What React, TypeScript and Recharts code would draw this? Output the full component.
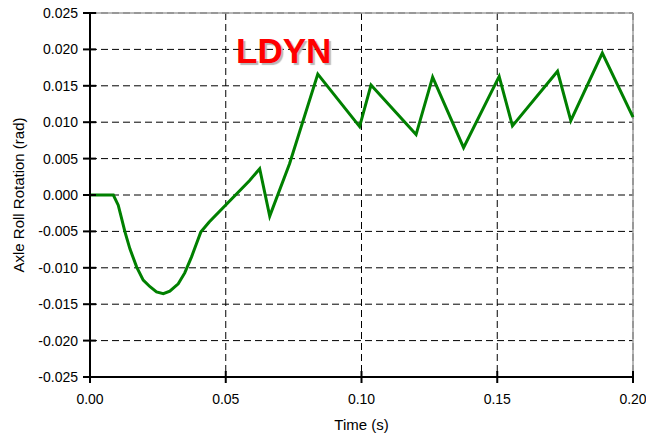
import React from 'react';
import { LineChart, Line, XAxis, YAxis, CartesianGrid, ReferenceLine } from 'recharts';

const timeS = [
  0, 0.0086, 0.0104, 0.0117, 0.0129, 0.0147, 0.0172, 0.0196, 0.0221, 0.0245, 0.027, 0.0294, 0.0325,
  0.0349, 0.0374, 0.0392, 0.0408, 0.0439, 0.0588, 0.0625, 0.0662, 0.0735, 0.0839, 0.0993, 0.1035,
  0.1201, 0.1262, 0.1376, 0.1507, 0.1556, 0.1722, 0.1771, 0.1887, 0.2,
];
const rollRad = [
  0, 0, -0.0014, -0.0033, -0.0051, -0.0074, -0.0099, -0.0117, -0.0126, -0.0133, -0.01355, -0.0132,
  -0.0122, -0.0107, -0.0085, -0.0067, -0.0051, -0.0037, 0.002, 0.0036, -0.0029, 0.0043, 0.0166,
  0.0094, 0.0151, 0.0083, 0.0162, 0.0065, 0.0163, 0.0095, 0.017, 0.0102, 0.0195, 0.0107,
];
const xTicks = [0, 0.05, 0.1, 0.15, 0.2];
const yTicks = [-0.025, -0.02, -0.015, -0.01, -0.005, 0, 0.005, 0.01, 0.015, 0.02, 0.025];

const data = timeS.map((t, i) => ({ t, v: rollRad[i] }));

const FONT = '"Liberation Sans", Arial, sans-serif';

function YTick({ x, y, payload }: any) {
  return (
    <g>
      <line x1={x - 7} x2={x + 6} y1={y} y2={y} stroke="#000" strokeWidth={2} />
      <text x={x - 12} y={y} dy={5} textAnchor="end" fontSize={14} fontFamily={FONT} fill="#000">
        {Number(payload.value).toFixed(3)}
      </text>
    </g>
  );
}

function XTick({ x, y, payload }: any) {
  return (
    <g>
      <line x1={x} x2={x} y1={y - 6} y2={y + 6} stroke="#000" strokeWidth={2} />
      <text x={x} y={y + 27} textAnchor="middle" fontSize={14} fontFamily={FONT} fill="#000">
        {Number(payload.value).toFixed(2)}
      </text>
    </g>
  );
}

export default function App() {
  return (
    <div style={{ position: 'absolute', left: 0, top: 0, width: 646, height: 435, background: '#fff' }}>
      <LineChart width={646} height={435} data={data} margin={{ top: 13, right: 13, left: 0, bottom: 0 }}>
        <CartesianGrid stroke="#000" strokeDasharray="7 4" strokeWidth={1} />
        <ReferenceLine y={0.025} stroke="#a0a0a0" strokeWidth={1.5} />
        <ReferenceLine x={0.2} stroke="#a0a0a0" strokeWidth={1.5} />
        <XAxis
          dataKey="t"
          type="number"
          domain={[0, 0.2]}
          ticks={xTicks}
          height={58}
          tickSize={0}
          tickMargin={0}
          tick={<XTick />}
          axisLine={{ stroke: '#000', strokeWidth: 2 }}
          tickLine={false}
          interval={0}
          label={{ value: 'Time (s)', position: 'center', dy: 19, fontSize: 15, fontFamily: FONT, fill: '#000' }}
        />
        <YAxis
          type="number"
          domain={[-0.025, 0.025]}
          ticks={yTicks}
          width={90}
          tickSize={0}
          tickMargin={0}
          tick={<YTick />}
          axisLine={{ stroke: '#000', strokeWidth: 2 }}
          tickLine={false}
          interval={0}
          label={{
            value: 'Axle Roll Rotation (rad)',
            angle: -90,
            position: 'center',
            dx: -26,
            fontSize: 15,
            fontFamily: FONT,
            fill: '#000',
          }}
        />
        <Line
          type="linear"
          dataKey="v"
          stroke="#008000"
          strokeWidth={3}
          dot={false}
          isAnimationActive={false}
        />
      </LineChart>
      <div
        style={{
          position: 'absolute',
          left: 236,
          top: 33,
          fontFamily: FONT,
          fontWeight: 'bold',
          fontSize: 35,
          color: '#ff0000',
          textShadow: '2px 2px 1px #b8b8b8',
          lineHeight: '35px',
        }}
      >
        LDYN
      </div>
    </div>
  );
}
